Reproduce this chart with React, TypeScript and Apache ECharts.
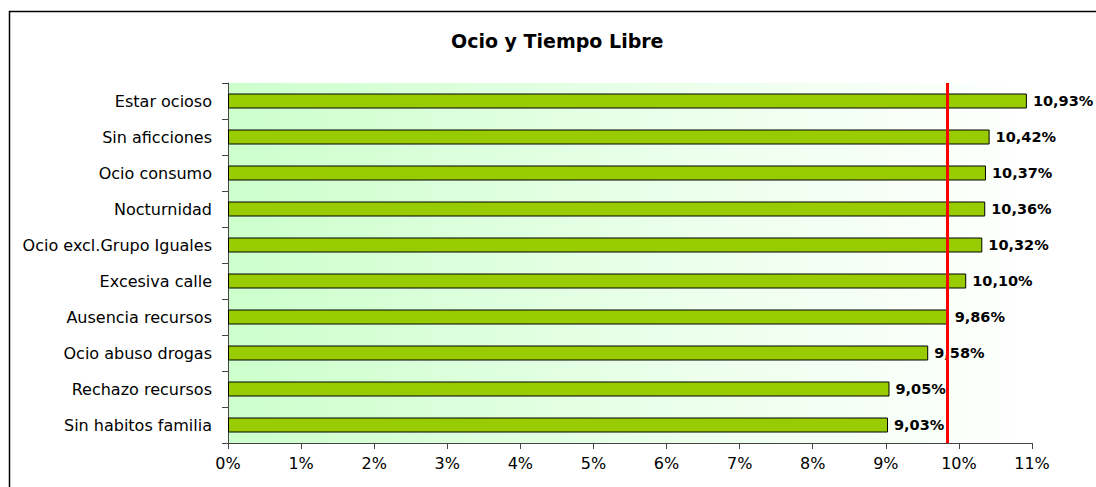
import React, { useEffect, useRef } from "react";
import * as echarts from "echarts";

const title = "Ocio y Tiempo Libre";
const categories = [
  "Estar ocioso",
  "Sin aficciones",
  "Ocio consumo",
  "Nocturnidad",
  "Ocio excl.Grupo Iguales",
  "Excesiva calle",
  "Ausencia recursos",
  "Ocio abuso drogas",
  "Rechazo recursos",
  "Sin habitos familia",
];
const values = [10.93, 10.42, 10.37, 10.36, 10.32, 10.1, 9.86, 9.58, 9.05, 9.03];
const referenceLine = 9.84;
const xTicks = { min: 0, max: 11, interval: 1 };

export default function App() {
  const ref = useRef<HTMLDivElement>(null);
  useEffect(() => {
    if (!ref.current) return;
    const chart = echarts.init(ref.current, undefined, { renderer: "svg" });
    chart.setOption({
      animation: false,
      backgroundColor: "#ffffff",
      textStyle: { fontFamily: "DejaVu Sans" },
      title: {
        text: title,
        left: 451,
        top: 31,
        padding: 0,
        textStyle: { fontFamily: "DejaVu Sans", fontWeight: "bold", fontSize: 19, color: "#000" },
      },
      graphic: [
        {
          type: "rect",
          z: -10,
          silent: true,
          shape: { x: 9.5, y: 11.5, width: 1200, height: 600 },
          style: { fill: "none", stroke: "#000", lineWidth: 1.5 },
        },
      ],
      grid: {
        left: 228,
        right: 64,
        top: 83,
        bottom: 44,
        show: true,
        borderWidth: 0,
        backgroundColor: new echarts.graphic.LinearGradient(0, 0, 1, 0, [
          { offset: 0, color: "#ccffcc" },
          { offset: 0.55, color: "#eaffea" },
          { offset: 1, color: "#ffffff" },
        ]),
      },
      xAxis: {
        type: "value",
        min: xTicks.min,
        max: xTicks.max,
        interval: xTicks.interval,
        axisLine: { show: true, lineStyle: { color: "#444", width: 1 } },
        axisTick: { show: true, length: 6, lineStyle: { color: "#444" } },
        splitLine: { show: false },
        axisLabel: {
          formatter: "{value}%",
          color: "#000",
          fontSize: 16,
          fontFamily: "DejaVu Sans",
          margin: 12,
        },
      },
      yAxis: {
        type: "category",
        data: categories,
        inverse: true,
        axisLine: { show: true, lineStyle: { color: "#444", width: 1 } },
        axisTick: { show: true, length: 6, interval: 0, lineStyle: { color: "#444" } },
        axisLabel: {
          color: "#000",
          fontSize: 16,
          fontFamily: "DejaVu Sans",
          margin: 16,
        },
      },
      series: [
        {
          type: "bar",
          data: values,
          barWidth: 15,
          itemStyle: { color: "#99cc00", borderColor: "#000", borderWidth: 1 },
          label: {
            show: true,
            position: "right",
            distance: 6,
            color: "#000",
            fontWeight: "bold",
            fontSize: 14.5,
            fontFamily: "DejaVu Sans",
            formatter: (p: any) => p.value.toFixed(2).replace(".", ",") + "%",
          },
          markLine: {
            silent: true,
            symbol: "none",
            z: 10,
            label: { show: false },
            lineStyle: { color: "#ff0000", width: 3, type: "solid" },
            data: [{ xAxis: referenceLine }],
          },
        },
      ],
    });
    return () => chart.dispose();
  }, []);
  return (
    <div
      ref={ref}
      style={{ position: "fixed", left: 0, top: 0, width: 1096, height: 487 }}
    />
  );
}
